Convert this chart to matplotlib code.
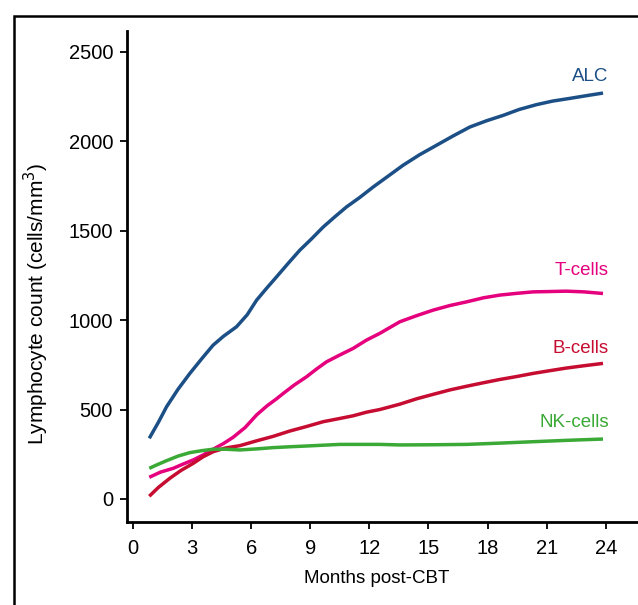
import matplotlib
matplotlib.use('Agg')
import matplotlib.pyplot as plt
from matplotlib.patches import Rectangle

plt.rcParams['font.family'] = ['Liberation Sans', 'DejaVu Sans']

# values (months post-CBT, cells/mm3)
alc_x = [0.83, 1.3, 1.71, 2.3, 2.89, 3.5, 4.07, 4.6, 5.26, 5.8, 6.28, 6.8, 7.29, 7.9,
         8.47, 9.07, 9.66, 10.25, 10.84, 11.5, 12.2, 12.95, 13.71, 14.55, 15.41, 16.25,
         17.1, 17.95, 18.79, 19.6, 20.48, 21.3, 22.17, 23.0, 23.86]
alc_y = [339, 430, 516, 615, 702, 785, 860, 910, 963, 1030, 1112, 1180, 1242, 1320,
         1391, 1455, 1521, 1578, 1633, 1685, 1745, 1805, 1866, 1925, 1978, 2030,
         2080, 2115, 2145, 2178, 2205, 2225, 2240, 2255, 2270]

t_x = [0.83, 1.4, 2.04, 2.55, 3.06, 3.55, 4.07, 4.6, 5.09, 5.7, 6.28, 6.8, 7.29, 7.63,
       8.2, 8.81, 9.3, 9.83, 10.5, 11.18, 11.85, 12.53, 13.55, 14.4, 15.24, 16.1, 16.93,
       17.8, 18.62, 19.5, 20.31, 21.2, 22.0, 22.9, 23.86]
t_y = [121, 150, 171, 195, 218, 245, 278, 310, 345, 400, 470, 520, 560, 590,
       638, 683, 725, 767, 805, 842, 888, 926, 991, 1025, 1056, 1082, 1102,
       1125, 1140, 1150, 1158, 1160, 1162, 1158, 1149]

b_x = [0.83, 1.3, 1.88, 2.45, 3.06, 3.55, 4.07, 4.7, 5.43, 6.28, 7.12, 7.97, 8.81, 9.66,
       10.5, 11.18, 11.85, 12.53, 13.55, 14.4, 15.24, 16.1, 16.93, 17.8, 18.62, 19.5,
       20.31, 21.2, 22.0, 22.9, 23.86]
b_y = [15, 65, 116, 160, 199, 235, 264, 285, 298, 325, 350, 380, 405, 432,
       450, 465, 485, 500, 530, 560, 585, 610, 630, 650, 668, 685,
       702, 718, 732, 745, 758]

nk_x = [0.83, 1.2, 1.71, 2.3, 2.89, 3.5, 4.07, 4.7, 5.43, 6.3, 7.12, 8.0, 8.81, 10.5,
        12.53, 13.55, 15.2, 16.93, 18.6, 20.31, 22.1, 23.86]
nk_y = [171, 190, 214, 240, 259, 270, 278, 278, 274, 280, 287, 292, 296, 305,
        305, 302, 303, 305, 312, 320, 328, 335]

names = ['ALC', 'T-cells', 'B-cells', 'NK-cells']
colors = ['#1b4f86', '#e5007d', '#c60c30', '#3aa935']
label_pos = [2363, 1279, 844, 425]

x_ticks = [0, 3, 6, 9, 12, 15, 18, 21, 24]
y_ticks = [0, 500, 1000, 1500, 2000, 2500]

fig = plt.figure(figsize=(6.38, 6.05), dpi=100)

# outer frame, cut off on the right and at the bottom
fig.patches.append(Rectangle((14 / 638, -0.1), 1.2, 1.1 - 16 / 605,
                             transform=fig.transFigure, fill=False,
                             edgecolor='black', linewidth=1.8))

ax = fig.add_axes([127 / 638, 83 / 605, 530 / 638, 491 / 605])

data = [(alc_x, alc_y), (t_x, t_y), (b_x, b_y), (nk_x, nk_y)]
for (xs, ys), name, color, ly in zip(data, names, colors, label_pos):
    ax.plot(xs, ys, color=color, linewidth=2.5, solid_capstyle='butt')
    ax.text(24.15, ly, name, color=color, ha='right', va='center', fontsize=13.5)

ax.set_xlim(-0.3, 26.6)
ax.set_ylim(-129, 2617)
ax.set_xticks(x_ticks)
ax.set_yticks(y_ticks)
ax.spines['top'].set_visible(False)
ax.spines['right'].set_visible(False)
for s in ['left', 'bottom']:
    ax.spines[s].set_linewidth(2)
ax.tick_params(direction='out', length=5, width=1.3, labelsize=14.5)
ax.tick_params(axis='x', pad=7)
ax.tick_params(axis='y', pad=5)

ax.set_xlabel('Months post-CBT', fontsize=13.5)
ax.set_ylabel('Lymphocyte count (cells/mm$^3$)', fontsize=15)
ax.xaxis.set_label_coords(0.472, -0.098)
ax.yaxis.set_label_coords(-0.143, 0.444)

fig.savefig('out.png', dpi=100)
